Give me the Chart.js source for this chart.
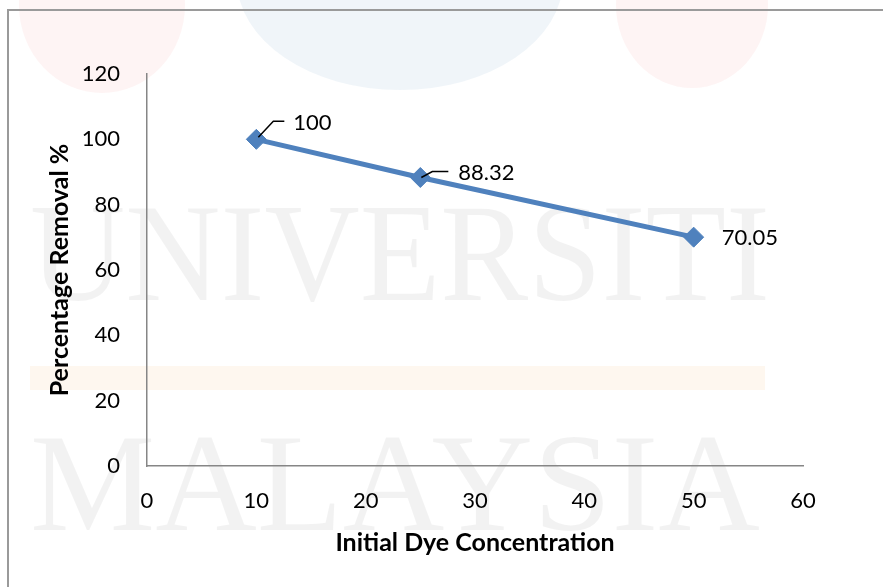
<!DOCTYPE html>
<html>
<head>
<meta charset="utf-8">
<title>Percentage Removal vs Initial Dye Concentration</title>
<script src="https://cdn.jsdelivr.net/npm/chart.js@4"></script>
<style>
  html, body { margin: 0; padding: 0; background: #fff; }
  #wrap { width: 883px; height: 587px; }
</style>
</head>
<body>
<div id="wrap"><canvas id="chart" width="883" height="587"></canvas></div>
<script>
// Data
const concentration = [10, 25, 50];
const removal = [100, 88.32, 70.05];
const removalLabels = ['100', '88.32', '70.05'];

// Axis setup
const xMin = 0, xMax = 60, xStep = 10;
const yMin = 0, yMax = 120, yStep = 20;

const lineColor = '#4f81bd';
const axisColor = '#868686';
const fontFamily = 'Lato, "Open Sans", sans-serif';

// where each value label sits relative to its point (pixels), plus its leader line
const labelPlacement = [
  { dx: 37, dy: -16, leader: [[2, -2], [17, -18], [28, -18]] },
  { dx: 38, dy: -5,  leader: [[1, 0], [12, -6], [28, -6]] },
  { dx: 28, dy: 1,   leader: null }
];

// faint background watermark + outer frame
const backdrop = {
  id: 'backdrop',
  beforeDraw(chart) {
    const ctx = chart.ctx;
    ctx.save();
    ctx.fillStyle = '#fff';
    ctx.fillRect(0, 0, chart.width, chart.height);

    // coloured blobs at the top
    ctx.fillStyle = 'rgba(240,110,110,0.08)';
    ctx.beginPath(); ctx.ellipse(102, 5, 83, 88, 0, 0, Math.PI * 2); ctx.fill();
    ctx.beginPath(); ctx.ellipse(692, 5, 76, 83, 0, 0, Math.PI * 2); ctx.fill();
    ctx.fillStyle = 'rgba(120,160,200,0.11)';
    ctx.beginPath(); ctx.ellipse(400, -20, 163, 110, 0, 0, Math.PI * 2); ctx.fill();

    // orange band
    ctx.fillStyle = 'rgba(250,180,110,0.11)';
    ctx.fillRect(30, 366, 735, 24);

    // watermark words
    ctx.fillStyle = 'rgba(0,0,0,0.05)';
    ctx.font = '140px "Liberation Serif", "DejaVu Serif", serif';
    ctx.textBaseline = 'alphabetic';
    const words = [['UNIVERSITI', 30, 300, 740], ['MALAYSIA', 30, 530, 730]];
    words.forEach(([w, x, y, width]) => {
      const m = ctx.measureText(w).width;
      ctx.save();
      ctx.translate(x, y);
      ctx.scale(width / m, 1);
      ctx.fillText(w, 0, 0);
      ctx.restore();
    });

    // chart frame
    ctx.strokeStyle = '#9a9a9a';
    ctx.lineWidth = 2;
    ctx.strokeRect(8, 10, 900, 600);
    ctx.restore();
  }
};

// value labels with leader lines
const valueLabels = {
  id: 'valueLabels',
  afterDatasetsDraw(chart) {
    const ctx = chart.ctx;
    const meta = chart.getDatasetMeta(0);
    ctx.save();
    ctx.font = '22px ' + fontFamily;
    ctx.fillStyle = '#000';
    ctx.textBaseline = 'middle';
    ctx.textAlign = 'left';
    ctx.strokeStyle = '#000';
    ctx.lineWidth = 1.5;
    meta.data.forEach((pt, i) => {
      const p = labelPlacement[i];
      if (p.leader) {
        ctx.beginPath();
        p.leader.forEach(([lx, ly], k) => {
          if (k === 0) ctx.moveTo(pt.x + lx, pt.y + ly);
          else ctx.lineTo(pt.x + lx, pt.y + ly);
        });
        ctx.stroke();
      }
      ctx.fillText(removalLabels[i], pt.x + p.dx, pt.y + p.dy);
    });
    ctx.restore();
  }
};

new Chart(document.getElementById('chart'), {
  type: 'line',
  data: {
    datasets: [{
      label: 'Percentage Removal %',
      data: concentration.map((c, i) => ({ x: c, y: removal[i] })),
      borderColor: lineColor,
      backgroundColor: lineColor,
      borderWidth: 5,
      pointStyle: 'rectRot',
      pointRadius: 10,
      pointBorderWidth: 1,
      pointBackgroundColor: lineColor,
      pointBorderColor: lineColor,
      tension: 0
    }]
  },
  options: {
    responsive: false,
    devicePixelRatio: 1,
    animation: false,
    layout: { padding: { left: 0, top: 74, right: 80, bottom: 0 } },
    plugins: {
      legend: { display: false },
      tooltip: { enabled: false }
    },
    scales: {
      x: {
        type: 'linear',
        min: xMin, max: xMax,
        grid: { display: false, drawTicks: false },
        border: { color: axisColor, width: 1.5 },
        ticks: { stepSize: xStep, color: '#000', padding: 22, font: { family: fontFamily, size: 22 } },
        title: {
          display: true, text: 'Initial Dye Concentration', color: '#000',
          font: { family: fontFamily, size: 25, weight: 'bold' },
          padding: { top: 0, bottom: 29 }
        },
        afterFit: s => { s.height = 121; }
      },
      y: {
        min: yMin, max: yMax,
        grid: { display: false, drawTicks: false },
        border: { color: axisColor, width: 1.5 },
        ticks: { stepSize: yStep, color: '#000', padding: 27, font: { family: fontFamily, size: 22 } },
        title: {
          display: true, text: 'Percentage Removal %', color: '#000',
          font: { family: fontFamily, size: 25, weight: 'bold' },
          padding: { top: 45, bottom: 0 }
        },
        afterFit: s => { s.width = 147; }
      }
    }
  },
  plugins: [backdrop, valueLabels]
});
</script>
</body>
</html>
